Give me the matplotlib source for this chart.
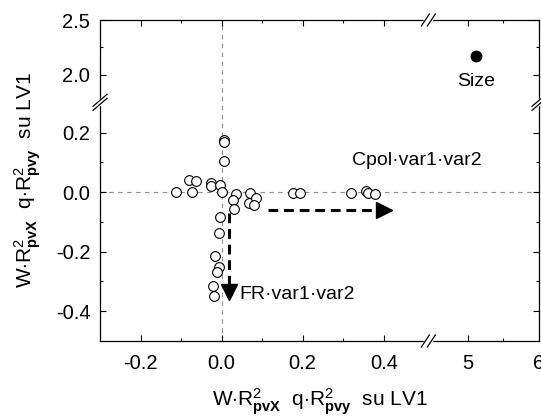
import numpy as np
import matplotlib
matplotlib.use('Agg')
import matplotlib.pyplot as plt
from matplotlib.lines import Line2D

plt.rcParams['font.family'] = ['Liberation Sans', 'DejaVu Sans']
plt.rcParams['mathtext.fontset'] = 'custom'
plt.rcParams['mathtext.rm'] = 'Liberation Sans'
plt.rcParams['mathtext.it'] = 'Liberation Sans:italic'
plt.rcParams['mathtext.bf'] = 'Liberation Sans:bold'

# loadings on LV1 (open circles)
x_pts = [-0.112, -0.072, -0.081, -0.062, -0.027, -0.027, -0.004, 0.001,
         0.006, 0.006, 0.006, 0.036, 0.028, 0.030, 0.071, 0.067, 0.086, 0.079,
         -0.005, -0.007, -0.017, -0.007, -0.011, -0.021, -0.019,
         0.176, 0.193, 0.320, 0.357, 0.361, 0.378]
y_pts = [0.000, 0.000, 0.042, 0.038, 0.029, 0.022, 0.023, 0.001,
         0.176, 0.167, 0.103, -0.008, -0.027, -0.058, -0.004, -0.036, -0.021, -0.043,
         -0.082, -0.138, -0.216, -0.252, -0.269, -0.316, -0.349,
         -0.004, -0.004, -0.004, 0.003, -0.004, -0.007]
size_x = [5.11]
size_y = [2.17]

# arrows: shaft start, shaft end, head centre
arrow_h = ([0.114, 0.382], [-0.06, -0.06], [0.400], [-0.06])
arrow_v = ([0.017, 0.017], [-0.07, -0.31], [0.017], [-0.335])

xticks = [-0.2, 0.0, 0.2, 0.4, 5, 6]
xticklabels = ['-0.2', '0.0', '0.2', '0.4', '5', '6']
xminor = [-0.1, 0.1, 0.3, 5.5]
yticks = [-0.4, -0.2, 0.0, 0.2, 2.0, 2.5]
yticklabels = ['-0.4', '-0.2', '0.0', '0.2', '2.0', '2.5']
yminor = [-0.3, -0.1, 0.1, 2.25]

label = r'W$\cdot$R$^2_{\mathbf{pvX}}$  q$\cdot$R$^2_{\mathbf{pvy}}$  su LV1'

# broken axes as piecewise-linear scales
XB = (0.5, 4.5); XK = 71 / 405; XG = 0.02
YB = (0.3, 1.75); YK = 110 / 300; YG = 0.003


def make_scale(b, k, g):
    lo, hi = b

    def fwd(v):
        v = np.asarray(v, dtype=float)
        return np.where(v <= lo, v,
                        np.where(v <= hi, lo + (v - lo) * g / (hi - lo),
                                 lo + g + (v - hi) * k))

    def inv(u):
        u = np.asarray(u, dtype=float)
        return np.where(u <= lo, u,
                        np.where(u <= lo + g, lo + (u - lo) * (hi - lo) / g,
                                 hi + (u - lo - g) / k))
    return fwd, inv


W, H = 541, 417
fig = plt.figure(figsize=(W / 100, H / 100), dpi=100)
ax = fig.add_axes([100 / W, (H - 341) / H, 439 / W, 321 / H])
ax.set_xscale('function', functions=make_scale(XB, XK, XG))
ax.set_yscale('function', functions=make_scale(YB, YK, YG))
ax.set_xlim(-0.3, 6)
ax.set_ylim(-0.5, 2.5)

ax.axvline(0, color='#8c8c8c', lw=0.8, dashes=(4, 4), zorder=1)
ax.axhline(0, color='#8c8c8c', lw=0.8, dashes=(4, 4), zorder=1)

ax.plot(x_pts, y_pts, 'o', ms=7, mfc='white', mec='black', mew=0.8, zorder=3)
ax.plot(size_x, size_y, 'o', ms=7.5, color='black', zorder=3)

for xs, ys, hx, hy in (arrow_h, arrow_v):
    ax.plot(xs, ys, color='black', lw=2.2, dashes=(3.2, 1.9), zorder=2)
ax.plot(arrow_h[2], arrow_h[3], '>', ms=11, color='black', zorder=2)
ax.plot(arrow_v[2], arrow_v[3], 'v', ms=11, color='black', zorder=2)

ax.text(0.481, 0.107, 'Cpol·var1·var2', fontsize=14, ha='center', va='center')
ax.text(0.044, -0.343, 'FR·var1·var2', fontsize=14, ha='left', va='center')
ax.text(5.11, 1.936, 'Size', fontsize=14, ha='center', va='center')

ax.set_xticks(xticks, xticklabels)
ax.set_xticks(xminor, minor=True)
ax.set_yticks(yticks, yticklabels)
ax.set_yticks(yminor, minor=True)
ax.tick_params(which='both', direction='in', top=True, right=True,
               labelsize=14.5, width=0.8)
ax.tick_params(axis='x', which='both', pad=9.5)
ax.tick_params(axis='y', which='both', pad=7)
ax.tick_params(which='major', length=4.5)
ax.tick_params(which='minor', length=2.2)
for s in ax.spines.values():
    s.set_linewidth(0.9)

ax.set_xlabel(label, fontsize=15)
ax.set_ylabel(label, fontsize=15)
ax.xaxis.set_label_coords(0.5, -0.142)
ax.yaxis.set_label_coords(-0.13, 0.5)

# break marks on the spines
fig.canvas.draw()
tr = ax.transData
bx = (tr.transform((XB[0], 0))[0] + tr.transform((XB[1], 0))[0]) / 2
by = (tr.transform((0, YB[0]))[1] + tr.transform((0, YB[1]))[1]) / 2
x0, y0 = tr.transform((-0.3, -0.5))
x1, y1 = tr.transform((6, 2.5))


def seg(xs, ys, **kw):
    fig.add_artist(Line2D(np.array(xs) / W, np.array(ys) / H,
                          transform=fig.transFigure, **kw))


for yy in (y0, y1):
    seg([bx - 3, bx + 3], [yy, yy], color='white', lw=2.5, zorder=5)
    for o in (-3, 3):
        seg([bx + o - 4, bx + o + 4], [yy - 6, yy + 6], color='black', lw=0.9, zorder=6)
for xx in (x0, x1):
    seg([xx, xx], [by - 2, by + 2], color='white', lw=2.5, zorder=5)
    for o in (-2, 2):
        seg([xx - 7, xx + 7], [by + o - 6, by + o + 6], color='black', lw=0.9, zorder=6)

fig.savefig('out.png', dpi=100)
